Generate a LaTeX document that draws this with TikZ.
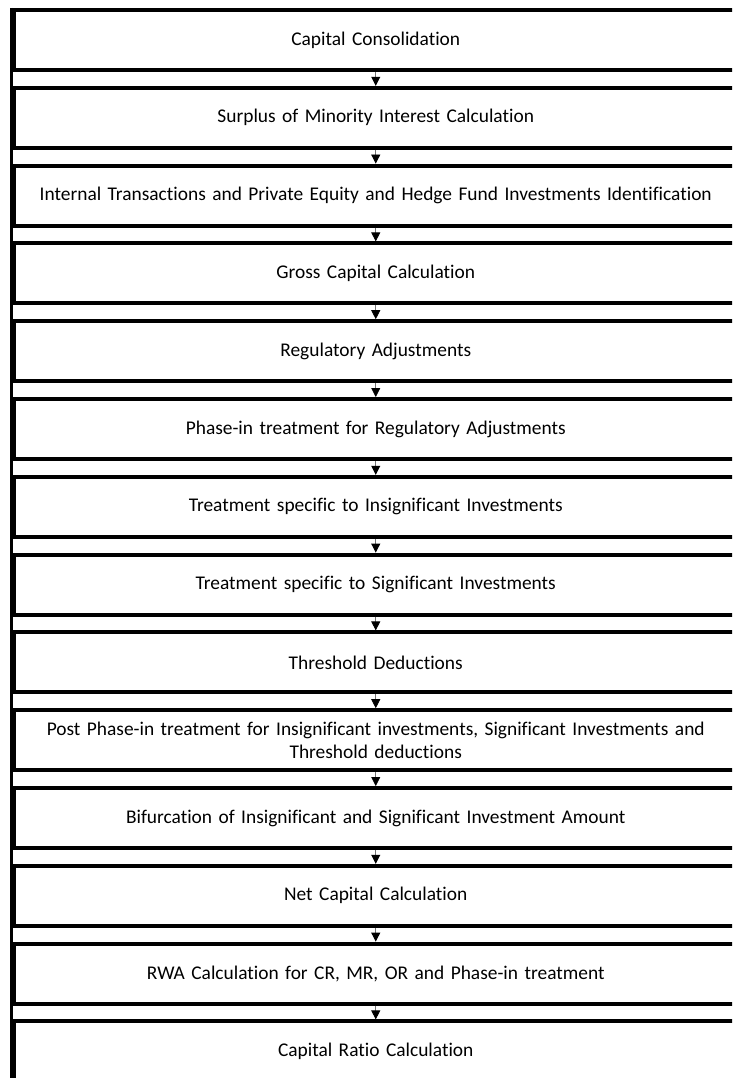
\documentclass[tikz,border=0pt]{standalone}
\usepackage{fontspec}
\setmainfont{Carlito}[Ligatures=NoCommon]
\usetikzlibrary{positioning,arrows.meta}

\begin{document}
\begin{tikzpicture}[
    x=1pt, y=1pt,
    node distance=17.8pt,
    stagebox/.style={
        rectangle,
        draw=black,
        line width=4pt,
        outer sep=0pt,
        minimum width=724.5pt,
        minimum height=60pt,
        text width=710pt,
        align=center,
        inner sep=0pt,
        font=\fontsize{19.4}{23}\selectfont
    },
    flowarrow/.style={
        -{Triangle[length=9pt,width=9pt,color=black]},
        line width=0.8pt,
        draw=black!55,
        shorten >=2pt,
        shorten <=2pt
    },
    spine/.style={
        line width=3pt,
        black
    }
]

\useasboundingbox (0,0) rectangle (732,-1078);
\clip (0,0) rectangle (732,-1078);

% Stages
\node[stagebox] (cons) at (375.75,-40) {Capital Consolidation};
\node[stagebox, below=of cons] (minor) {Surplus of Minority Interest Calculation};
\node[stagebox, below=of minor] (ident) {Internal Transactions and Private Equity and Hedge Fund Investments Identification};
\node[stagebox, below=of ident] (gross) {Gross Capital Calculation};
\node[stagebox, below=of gross] (regadj) {Regulatory Adjustments};
\node[stagebox, below=of regadj] (phase) {Phase-in treatment for Regulatory Adjustments};
\node[stagebox, below=of phase] (insig) {Treatment specific to Insignificant Investments};
\node[stagebox, below=of insig] (sig) {Treatment specific to Significant Investments};
\node[stagebox, below=of sig] (thresh) {Threshold Deductions};
\node[stagebox, below=of thresh] (post) {Post Phase-in treatment for Insignificant investments, Significant Investments and\\Threshold deductions};
\node[stagebox, below=of post] (bifur) {Bifurcation of Insignificant and Significant Investment Amount};
\node[stagebox, below=of bifur] (net) {Net Capital Calculation};
\node[stagebox, below=of net] (rwa) {RWA Calculation for CR, MR, OR and Phase-in treatment};
\node[stagebox, below=of rwa] (ratio) {Capital Ratio Calculation};

% Arrows between stages
\foreach \a/\b in {cons/minor, minor/ident, ident/gross, gross/regadj, regadj/phase,
    phase/insig, insig/sig, sig/thresh, thresh/post, post/bifur, bifur/net, net/rwa, rwa/ratio}
    \draw[flowarrow] (\a.south) -- (\b.north);

% Left spine
\coordinate (spinetop) at ([xshift=-2.5pt, yshift=2pt]cons.north west);
\draw[spine] (spinetop) -- ++(0,-1080);

\end{tikzpicture}
\end{document}
